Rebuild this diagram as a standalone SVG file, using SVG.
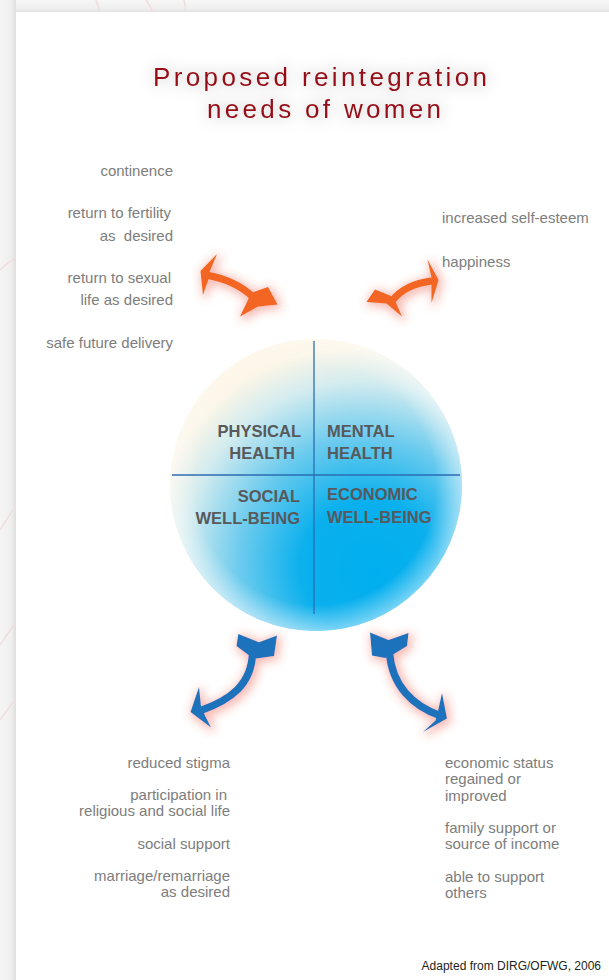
<svg xmlns="http://www.w3.org/2000/svg" width="609" height="980" viewBox="0 0 609 980">
  <defs>
    <linearGradient id="leftShade" x1="0" y1="0" x2="1" y2="0">
      <stop offset="0" stop-color="#f5f5f5"/>
      <stop offset="0.7" stop-color="#efefef"/>
      <stop offset="1" stop-color="#dedede"/>
    </linearGradient>
    <linearGradient id="topShade" x1="0" y1="0" x2="0" y2="1">
      <stop offset="0" stop-color="#f6f6f6"/>
      <stop offset="0.7" stop-color="#efefef"/>
      <stop offset="1" stop-color="#e2e2e2"/>
    </linearGradient>
    <radialGradient id="ballFill" cx="0.64" cy="0.74" r="0.78" fx="0.7" fy="0.8">
      <stop offset="0" stop-color="#00aeef"/>
      <stop offset="0.3" stop-color="#0bb0ed"/>
      <stop offset="0.55" stop-color="#6ccbee"/>
      <stop offset="0.78" stop-color="#d4ecef"/>
      <stop offset="0.92" stop-color="#fbf5e6"/>
      <stop offset="1" stop-color="#fdf2dc"/>
    </radialGradient>
    <radialGradient id="ballEdge" cx="0.5" cy="0.5" r="0.5">
      <stop offset="0.82" stop-color="#ffffff" stop-opacity="0"/>
      <stop offset="1" stop-color="#ffffff" stop-opacity="0.45"/>
    </radialGradient>
    <filter id="glow" x="-60%" y="-60%" width="220%" height="220%">
      <feMorphology in="SourceAlpha" operator="dilate" radius="2" result="d"/>
      <feGaussianBlur in="d" stdDeviation="5" result="b"/>
      <feOffset in="b" dx="2" dy="2" result="o"/>
      <feFlood flood-color="#ea4a35" flood-opacity="0.38"/>
      <feComposite in2="o" operator="in" result="g"/>
      <feMerge><feMergeNode in="g"/><feMergeNode in="SourceGraphic"/></feMerge>
    </filter>
    <filter id="halo" x="-20%" y="-60%" width="140%" height="220%">
      <feMorphology in="SourceAlpha" operator="dilate" radius="3" result="d"/>
      <feGaussianBlur in="d" stdDeviation="7" result="b"/>
      <feFlood flood-color="#000000" flood-opacity="0.07"/>
      <feComposite in2="b" operator="in" result="g"/>
      <feMerge><feMergeNode in="g"/><feMergeNode in="SourceGraphic"/></feMerge>
    </filter>
    <style>
      .title { font-family: "Liberation Sans", Arial, sans-serif; font-size: 26px; fill: #951018; }
      .item { font-family: "Liberation Sans", Arial, sans-serif; font-size: 15px; fill: #7d7d7d; white-space: pre; }
      .r { text-anchor: end; }
      .quad { font-family: "Liberation Sans", Arial, sans-serif; font-size: 16.5px; font-weight: bold; fill: #58595b; }
      .divider { stroke: #2b6cb3; stroke-width: 1.3; }
      .orange { fill: #f26522; }
      .blue { fill: #1e73bb; }
      .shaftO { fill: none; stroke: #f26522; stroke-width: 7; }
      .shaftB { fill: none; stroke: #1e73bb; stroke-width: 7.5; }
      .credit { font-family: "Liberation Sans", Arial, sans-serif; font-size: 12px; fill: #231f20; }
    </style>
  </defs>

  <!-- page background and panel -->
  <rect x="0" y="0" width="609" height="980" fill="#f1f1f1"/>
  <rect x="0" y="0" width="16" height="980" fill="url(#leftShade)"/>
  <rect x="16" y="0" width="593" height="12" fill="url(#topShade)"/>
  <g fill="none" stroke="#f0dede" stroke-width="1.5">
    <path d="M 96 0 Q 98 6 100 12"/>
    <path d="M 146 0 Q 150 6 153 12"/>
    <path d="M 184 0 Q 185 6 186 12"/>
    <path d="M 0 530 L 16 505"/>
    <path d="M 0 645 L 16 622"/>
    <path d="M 0 720 L 16 698"/>
    <path d="M 0 270 Q 8 262 16 258"/>
  </g>
  <rect x="16" y="12" width="593" height="968" fill="#ffffff"/>

  <!-- title -->
  <g id="title" filter="url(#halo)">
    <text class="title" x="320" y="86" text-anchor="middle" textLength="334" lengthAdjust="spacing">Proposed reintegration</text>
    <text class="title" x="324" y="118" text-anchor="middle" textLength="234" lengthAdjust="spacing">needs of women</text>
  </g>

  <!-- central circle node -->
  <g id="wellbeing-circle">
    <circle cx="316" cy="485" r="146" fill="url(#ballFill)"/>
    <circle cx="316" cy="485" r="146" fill="url(#ballEdge)"/>
    <line class="divider" x1="314" y1="341" x2="314" y2="614"/>
    <line class="divider" x1="172" y1="475" x2="460" y2="475"/>
  </g>

  <g id="physical-health">
    <text class="quad" x="301" y="437" text-anchor="end">PHYSICAL</text>
    <text class="quad" x="295" y="459" text-anchor="end">HEALTH</text>
  </g>
  <g id="mental-health">
    <text class="quad" x="327" y="437">MENTAL</text>
    <text class="quad" x="327" y="459">HEALTH</text>
  </g>
  <g id="social-well-being">
    <text class="quad" x="300" y="502" text-anchor="end">SOCIAL</text>
    <text class="quad" x="300" y="524" text-anchor="end">WELL-BEING</text>
  </g>
  <g id="economic-well-being">
    <text class="quad" x="327" y="500">ECONOMIC</text>
    <text class="quad" x="327" y="523">WELL-BEING</text>
  </g>

  <!-- needs lists -->
  <g id="physical-needs">
    <text class="item r" x="173" y="176">continence</text>
    <text class="item r" x="171" y="218">return to fertility</text>
    <text class="item r" x="173" y="241" xml:space="preserve">as  desired</text>
    <text class="item r" x="171" y="283">return to sexual</text>
    <text class="item r" x="173" y="305">life as desired</text>
    <text class="item r" x="173" y="348">safe future delivery</text>
  </g>
  <g id="mental-needs">
    <text class="item" x="442" y="223">increased self-esteem</text>
    <text class="item" x="442" y="267">happiness</text>
  </g>
  <g id="social-needs">
    <text class="item r" x="230" y="768">reduced stigma</text>
    <text class="item r" x="227" y="800">participation in</text>
    <text class="item r" x="230" y="816">religious and social life</text>
    <text class="item r" x="230" y="849">social support</text>
    <text class="item r" x="230" y="881">marriage/remarriage</text>
    <text class="item r" x="230" y="897">as desired</text>
  </g>
  <g id="economic-needs">
    <text class="item" x="445" y="768">economic status</text>
    <text class="item" x="445" y="784">regained or</text>
    <text class="item" x="445" y="801">improved</text>
    <text class="item" x="445" y="833">family support or</text>
    <text class="item" x="445" y="849">source of income</text>
    <text class="item" x="445" y="882">able to support</text>
    <text class="item" x="445" y="898">others</text>
  </g>

  <!-- connectors -->
  <g id="connectors">
    <g id="arrow-physical" filter="url(#glow)">
      <path class="shaftO" d="M 206 275 Q 235 280 253 297"/>
      <path class="orange" d="M 200.5 271 L 217 254 L 209.5 272 L 208.5 279 L 203 295 Z"/>
      <path class="orange" d="M 251 293 L 268 287 L 277.5 304.5 L 258 306.5 L 240 316.5 L 247 302 Z"/>
    </g>
    <g id="arrow-mental" filter="url(#glow)">
      <path class="shaftO" d="M 432 281 Q 405 284 392 301"/>
      <path class="orange" d="M 438.5 280 L 427.5 259.5 L 431.5 277.5 L 431.5 285 L 431.5 303 Z"/>
      <path class="orange" d="M 391 296 L 375 289.5 L 366.5 302 L 386.5 303.5 L 402 316.5 L 396 303 Z"/>
    </g>
    <g id="arrow-social" filter="url(#glow)">
      <path class="shaftB" d="M 252.5 654 C 251 685 230 700 202 710"/>
      <path class="blue" d="M 190.5 712 L 199 687 L 201 706 L 204.5 714.5 L 211 727.5 Z"/>
      <path class="blue" d="M 238.3 634 L 259 642.3 L 277 635.5 L 274 656 L 256.5 658.5 L 248.5 655 L 236.5 646 Z"/>
    </g>
    <g id="arrow-economic" filter="url(#glow)">
      <path class="shaftB" d="M 389.5 653 C 392 685 412 706 441 716"/>
      <path class="blue" d="M 447 718.5 L 442 693 L 438 711 L 435.5 720.5 L 423 732 Z"/>
      <path class="blue" d="M 370 632.5 L 388.5 640 L 408.5 633 L 407 646 L 394 654 L 385 658 L 372 655.5 Z"/>
    </g>
  </g>

  <text class="credit" x="601" y="970" text-anchor="end">Adapted from DIRG/OFWG, 2006</text>
</svg>
